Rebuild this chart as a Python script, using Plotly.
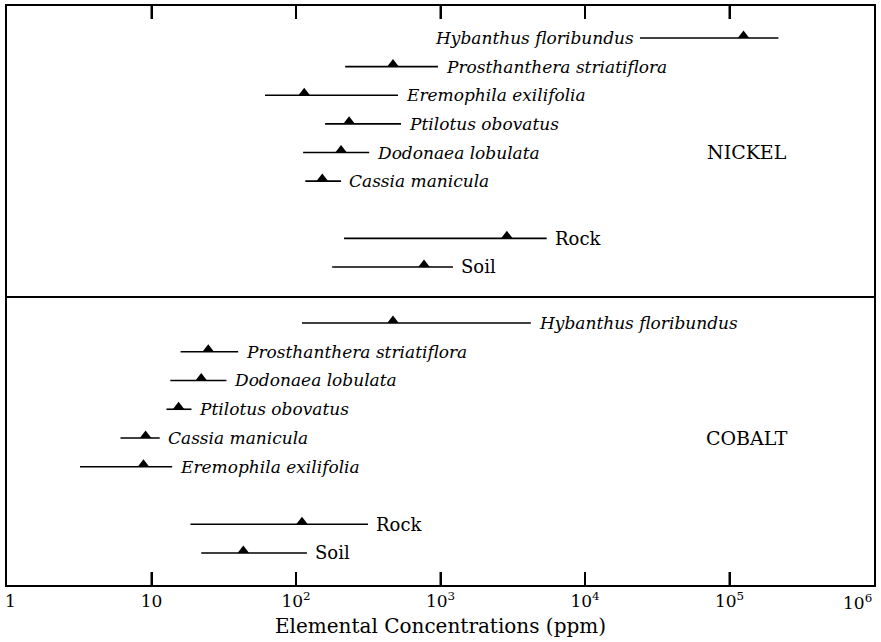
import math
import plotly.graph_objects as go

# ---------------- data (ppm) ----------------
nickel_species = ["Hybanthus floribundus", "Prosthanthera striatiflora", "Eremophila exilifolia",
                  "Ptilotus obovatus", "Dodonaea lobulata", "Cassia manicula", "Rock", "Soil"]
nickel_min = [24000, 219, 61, 159, 112, 116, 215, 178]
nickel_mean = [125000, 469, 114, 233, 205, 152, 2880, 769]
nickel_max = [218000, 960, 508, 533, 321, 205, 5430, 1220]

cobalt_species = ["Hybanthus floribundus", "Prosthanthera striatiflora", "Dodonaea lobulata",
                  "Ptilotus obovatus", "Cassia manicula", "Eremophila exilifolia", "Rock", "Soil"]
cobalt_min = [110, 15.9, 13.5, 12.7, 6.1, 3.2, 18.6, 22.1]
cobalt_mean = [469, 24.7, 22.1, 15.4, 9.1, 8.8, 110, 43.2]
cobalt_max = [4220, 39.8, 33, 18.9, 11.4, 13.9, 315, 119]

substrates = ["Rock", "Soil"]
tick_values = [1, 10, 100, 1000, 10000, 100000, 1000000]
tick_labels = ["1", "10", "10<sup>2</sup>", "10<sup>3</sup>", "10<sup>4</sup>", "10<sup>5</sup>", "10<sup>6</sup>"]
panel_names = ["NICKEL", "COBALT"]
x_title = "Elemental Concentrations (ppm)"

SERIF = "DejaVu Serif"
BLACK = "black"

fig = go.Figure()


def add_panel(names, mins, means, maxs, xref, yref, left_label=()):
    fig.add_trace(go.Scatter(
        x=means, y=names, mode="markers",
        xaxis=xref, yaxis=yref,
        marker=dict(symbol="triangle-down", angle=180, standoff=2.5, size=10, color=BLACK),
        error_x=dict(type="data", symmetric=False,
                     array=[mx - m for mx, m in zip(maxs, means)],
                     arrayminus=[m - mn for mn, m in zip(mins, means)],
                     color=BLACK, thickness=1.6, width=0),
        showlegend=False, hoverinfo="skip",
    ))
    for name, mn, mx in zip(names, mins, maxs):
        italic = name not in substrates
        if name in left_label:
            xpos, anchor, shift = math.log10(mn), "right", -4
        else:
            xpos, anchor, shift = math.log10(mx), "left", 6
        fig.add_annotation(
            x=xpos, y=name, xref=xref, yref=yref, text=name, showarrow=False,
            xanchor=anchor, yanchor="middle", xshift=shift,
            font=dict(family=SERIF, size=17 if italic else 18, color=BLACK,
                      style="italic" if italic else "normal"),
        )


add_panel(nickel_species, nickel_min, nickel_mean, nickel_max, "x", "y",
          left_label=("Hybanthus floribundus",))
add_panel(cobalt_species, cobalt_min, cobalt_mean, cobalt_max, "x2", "y2")

split = 0.4957
log_lo, log_hi = math.log10(tick_values[0]), math.log10(tick_values[-1])

common_x = dict(type="log", range=[log_lo, log_hi], showgrid=False, zeroline=False,
                showline=True, linecolor=BLACK, linewidth=2,
                tickmode="array", tickvals=tick_values[1:-1],
                ticks="inside", ticklen=13, tickwidth=2, tickcolor=BLACK,
                automargin=False)
common_y = dict(type="category", showgrid=False, zeroline=False, showticklabels=False,
                showline=True, linecolor=BLACK, linewidth=2, mirror=True, ticks="",
                automargin=False)

nickel_order = list(reversed(substrates)) + [" "] + list(reversed(nickel_species[:6]))
cobalt_order = list(reversed(substrates)) + [" "] + list(reversed(cobalt_species[:6]))

fig.update_layout(
    width=881, height=642,
    margin=dict(l=7, r=7, t=6, b=57),
    paper_bgcolor="white", plot_bgcolor="white",
    font=dict(family=SERIF, color=BLACK, size=17),
    xaxis=dict(common_x, anchor="y", side="top", mirror=False, showticklabels=False,
               ticktext=tick_labels[1:-1]),
    xaxis2=dict(common_x, anchor="y2", side="bottom", mirror=True,
                ticktext=tick_labels[1:-1], tickfont=dict(family=SERIF, size=17, color=BLACK),
                title=dict(text=x_title, font=dict(family=SERIF, size=20, color=BLACK), standoff=9)),
    yaxis=dict(common_y, domain=[split, 1], anchor="x",
               categoryorder="array", categoryarray=nickel_order, range=[-1.083, 9.118]),
    yaxis2=dict(common_y, domain=[0, split], anchor="x2",
                categoryorder="array", categoryarray=cobalt_order, range=[-1.113, 8.87]),
)

# inward tick marks at each decade, on the top frame and on the bottom frame
TICK_PX = 13
top_h = (1 - split) * (642 - 6 - 57)
bot_h = split * (642 - 6 - 57)
for v in tick_values[1:-1]:
    fx = (math.log10(v) - log_lo) / (log_hi - log_lo)
    fig.add_shape(type="line", xref="x domain", yref="y domain", x0=fx, x1=fx,
                  y0=1, y1=1 - TICK_PX / top_h, line=dict(color=BLACK, width=2))
    fig.add_shape(type="line", xref="x2 domain", yref="y2 domain", x0=fx, x1=fx,
                  y0=0, y1=TICK_PX / bot_h, line=dict(color=BLACK, width=2))

# panel names
fig.add_annotation(x=0.8535, y=0.5, xref="x domain", yref="y domain", text=panel_names[0],
                   showarrow=False, xanchor="center", yanchor="middle",
                   font=dict(family=SERIF, size=19, color=BLACK))
fig.add_annotation(x=0.8535, y=0.512, xref="x2 domain", yref="y2 domain", text=panel_names[1],
                   showarrow=False, xanchor="center", yanchor="middle",
                   font=dict(family=SERIF, size=19, color=BLACK))

# end-of-axis labels (1 and 10^6) drawn inside the frame edges like the original
fig.add_annotation(x=log_lo, y=0, xref="x2", yref="paper", text=tick_labels[0],
                   showarrow=False, xanchor="left", yanchor="top", yshift=-4, xshift=-4,
                   font=dict(family=SERIF, size=17, color=BLACK))
fig.add_annotation(x=log_hi, y=0, xref="x2", yref="paper", text=tick_labels[-1],
                   showarrow=False, xanchor="right", yanchor="top", yshift=-4,
                   font=dict(family=SERIF, size=17, color=BLACK))

fig.write_html("out.html", config={"displayModeBar": False},
               post_script="document.body.style.margin='0px';")
